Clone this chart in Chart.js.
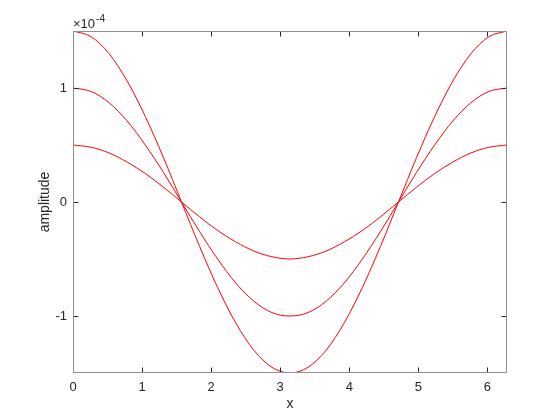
<!DOCTYPE html>
<html>
<head>
<meta charset="utf-8">
<script src="https://cdn.jsdelivr.net/npm/chart.js@4"></script>
<style>
    html, body { margin: 0; padding: 0; background: #fff; }
</style>
</head>
<body>
<canvas id="grafik" width="560" height="420"></canvas>
<script>
// titik x (radian)
var xVals = [0, 0.262, 0.524, 0.785, 1.047, 1.309, 1.571, 1.833, 2.094, 2.356, 2.618, 2.880, 3.142,
             3.403, 3.665, 3.927, 4.189, 4.451, 4.712, 4.974, 5.236, 5.498, 5.760, 6.021, 6.283];
// amplitudo dalam satuan 1e-4
var ampKecil  = [0.5, 0.48, 0.43, 0.35, 0.25, 0.13, 0, -0.13, -0.25, -0.35, -0.43, -0.48, -0.5,
                 -0.48, -0.43, -0.35, -0.25, -0.13, 0, 0.13, 0.25, 0.35, 0.43, 0.48, 0.5];
var ampSedang = [1, 0.97, 0.87, 0.71, 0.5, 0.26, 0, -0.26, -0.5, -0.71, -0.87, -0.97, -1,
                 -0.97, -0.87, -0.71, -0.5, -0.26, 0, 0.26, 0.5, 0.71, 0.87, 0.97, 1];
var ampBesar  = [1.5, 1.45, 1.3, 1.06, 0.75, 0.39, 0, -0.39, -0.75, -1.06, -1.3, -1.45, -1.5,
                 -1.45, -1.3, -1.06, -0.75, -0.39, 0, 0.39, 0.75, 1.06, 1.3, 1.45, 1.5];
var xTicks = [0, 1, 2, 3, 4, 5, 6];
var yTicks = [-1, 0, 1];
var pangkat = '-4';

var warnaTeks = '#262626';
var fontNama = '"Liberation Sans", Arial, sans-serif';

function buatData(arr){
    var hasil = [];
    for (var i = 0; i < xVals.length; i++) hasil.push({ x: xVals[i], y: arr[i] });
    return hasil;
}

function seri(arr){
    return { data: buatData(arr), borderColor: '#ff0000', borderWidth: 1, pointRadius: 0,
             fill: false, cubicInterpolationMode: 'monotone' };
}

// kotak sumbu, tick ke dalam, label x10^-4
var kotakPlugin = {
    id: 'kotak',
    afterDraw: function(chart){
        var ctx = chart.ctx, a = chart.chartArea;
        var sx = chart.scales.x, sy = chart.scales.y;
        var L = Math.round(a.left) + 0.5, R = Math.round(a.right) - 0.5;
        var T = Math.round(a.top) + 0.5, B = Math.round(a.bottom) - 0.5;
        ctx.save();
        ctx.lineWidth = 1;
        ctx.strokeStyle = warnaTeks;
        ctx.beginPath();
        xTicks.forEach(function(v){
            var px = Math.round(sx.getPixelForValue(v)) + 0.5;
            ctx.moveTo(px, B); ctx.lineTo(px, B - 5);
            ctx.moveTo(px, T); ctx.lineTo(px, T + 5);
        });
        yTicks.forEach(function(v){
            var py = Math.round(sy.getPixelForValue(v)) + 0.5;
            ctx.moveTo(L, py); ctx.lineTo(L + 5, py);
            ctx.moveTo(R, py); ctx.lineTo(R - 5, py);
        });
        ctx.stroke();
        ctx.strokeStyle = '#8f8f8f';
        ctx.strokeRect(L, T, R - L, B - T);

        ctx.fillStyle = warnaTeks;
        ctx.textBaseline = 'alphabetic';
        ctx.textAlign = 'left';
        ctx.font = '13px ' + fontNama;
        var teks = '\u00d710';
        ctx.fillText(teks, a.left, a.top - 3);
        var w = ctx.measureText(teks).width;
        ctx.font = '10px ' + fontNama;
        ctx.fillText(pangkat, a.left + w + 1, a.top - 9);
        ctx.restore();
    }
};

var ctx = document.getElementById('grafik').getContext('2d');
window.grafikGelombang = new Chart(ctx, {
    type: 'line',
    data: { datasets: [seri(ampBesar), seri(ampSedang), seri(ampKecil)] },
    options: {
        responsive: false, animation: false, devicePixelRatio: 1,
        layout: { padding: { top: 31, right: 53, bottom: 0, left: 0 } },
        plugins: { legend: { display: false }, tooltip: { enabled: false } },
        scales: {
            x: {
                type: 'linear', min: 0, max: 6.2832,
                afterBuildTicks: function(s){ s.ticks = xTicks.map(function(v){ return { value: v }; }); },
                afterFit: function(s){ s.height = 47; },
                grid: { display: false, drawTicks: false },
                border: { display: false },
                ticks: { color: warnaTeks, font: { size: 13, family: fontNama }, padding: 7, maxRotation: 0, autoSkip: false },
                title: { display: true, text: 'x', color: warnaTeks, font: { size: 14, family: fontNama }, padding: { top: 0, bottom: 7 } }
            },
            y: {
                type: 'linear', min: -1.5, max: 1.5,
                afterBuildTicks: function(s){ s.ticks = yTicks.map(function(v){ return { value: v }; }); },
                afterFit: function(s){ s.width = 73; },
                grid: { display: false, drawTicks: false },
                border: { display: false },
                ticks: { color: warnaTeks, font: { size: 13, family: fontNama }, padding: 6,
                         callback: function(v){ return String(v); } },
                title: { display: true, text: 'amplitude', color: warnaTeks, font: { size: 14, family: fontNama }, padding: { top: 37, bottom: 0 } }
            }
        }
    },
    plugins: [kotakPlugin]
});
</script>
</body>
</html>
